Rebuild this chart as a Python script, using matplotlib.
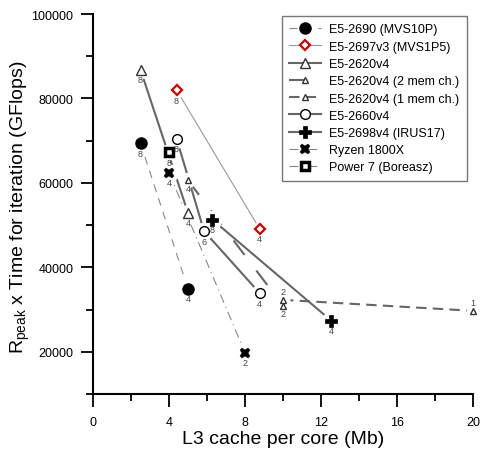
import numpy as np
import matplotlib
matplotlib.use('Agg')
import matplotlib.pyplot as plt
from matplotlib.lines import Line2D

plt.rcParams['font.family'] = ['Liberation Sans', 'DejaVu Sans']

# L3 cache per core (Mb), Rpeak x time (GFlops), number of cores (point labels)
x_e52690 = [2.5, 5.0]
y_e52690 = [69400, 34900]
n_e52690 = [8, 4]

x_e52697 = [4.4, 8.77]
y_e52697 = [82000, 49100]
n_e52697 = [8, 4]

x_e52620 = [2.5, 5.0]
y_e52620 = [86800, 52900]
n_e52620 = [8, 4]

x_e52620_2ch = [5.0, 10.0]
y_e52620_2ch = [60600, 30900]
n_e52620_2ch = [4, 2]

x_e52620_1ch = [10.0, 20.0]
y_e52620_1ch = [32300, 29700]
n_e52620_1ch = [2, 1]

x_e52660 = [4.4, 5.84, 8.77]
y_e52660 = [70500, 48600, 33900]
n_e52660 = [8, 6, 4]

x_e52698 = [6.28, 12.53]
y_e52698 = [51300, 27400]
n_e52698 = [8, 4]

x_ryzen = [4.0, 8.0]
y_ryzen = [62400, 19800]
n_ryzen = [4, 2]

x_power7 = [4.0]
y_power7 = [67300]
n_power7 = [8]

names = ['E5-2690 (MVS10P)', 'E5-2697v3 (MVS1P5)', 'E5-2620v4',
         'E5-2620v4 (2 mem ch.)', 'E5-2620v4 (1 mem ch.)', 'E5-2660v4',
         'E5-2698v4 (IRUS17)', 'Ryzen 1800X', 'Power 7 (Boreasz)']

xs = [x_e52690, x_e52697, x_e52620, x_e52620_2ch, x_e52620_1ch, x_e52660, x_e52698, x_ryzen, x_power7]
ys = [y_e52690, y_e52697, y_e52620, y_e52620_2ch, y_e52620_1ch, y_e52660, y_e52698, y_ryzen, y_power7]
ns = [n_e52690, n_e52697, n_e52620, n_e52620_2ch, n_e52620_1ch, n_e52660, n_e52698, n_ryzen, n_power7]

# line colour/width/style, marker, size, face, edge, edge width, label offset (px)
styles = [
    dict(c='#888888', lw=0.8, ls=(0, (7, 6)), m='o', ms=8, mfc='black', mec='black', mew=1, off=-10),
    dict(c='#999999', lw=0.8, ls='-', m='D', ms=5, mfc='white', mec='#cc0000', mew=1.6, off=-10),
    dict(c='#666666', lw=1.5, ls='-', m='^', ms=6.5, mfc='white', mec='#333333', mew=1, off=-10),
    dict(c='#666666', lw=1.5, ls=(0, (8.7, 9.4)), m='^', ms=5, mfc='white', mec='#333333', mew=1, off=-8),
    dict(c='#666666', lw=1.5, ls=(0, (5, 3)), m='^', ms=4, mfc='white', mec='#333333', mew=1, off=8),
    dict(c='#666666', lw=1.5, ls='-', m='o', ms=7, mfc='white', mec='black', mew=1, off=-10),
    dict(c='#666666', lw=1.5, ls='-', m='P', ms=8, mfc='black', mec='black', mew=0.5, off=-10),
    dict(c='#888888', lw=0.8, ls=(0, (8, 4, 1, 4)), m='X', ms=7.5, mfc='black', mec='black', mew=0.3, off=-10),
    dict(c='#888888', lw=0.8, ls=(0, (8, 4, 1, 4)), m='s', ms=6, mfc='white', mec='black', mew=2.5, off=-10),
]

fig = plt.figure(figsize=(4.8, 4.52), dpi=100)
ax = fig.add_axes([93/480, 57/452, 380/480, 380/452])

handles = []
for x, y, n, s, name in zip(xs, ys, ns, styles, names):
    ax.plot(x, y, color=s['c'], lw=s['lw'], ls=s['ls'], zorder=2, clip_on=False)
    # white halo so the lines stop short of the symbols
    ax.plot(x, y, ls='none', marker='o', ms=s['ms'] + 5, mfc='white', mec='white',
            zorder=3, clip_on=False)
    ax.plot(x, y, ls='none', marker=s['m'], ms=s['ms'], mfc=s['mfc'], mec=s['mec'],
            mew=s['mew'], zorder=4, clip_on=False)
    for xi, yi, ni in zip(x, y, n):
        ax.annotate(str(ni), (xi, yi), xytext=(0, s['off']), textcoords='offset pixels',
                    ha='center', va='center', fontsize=6.5, color='#444444', zorder=5,
                    annotation_clip=False)
    handles.append(Line2D([], [], color=s['c'], lw=s['lw'], ls=s['ls'], marker=s['m'],
                          ms=s['ms'], mfc=s['mfc'], mec=s['mec'], mew=s['mew']))

ax.set_xlim(0, 20)
ax.set_ylim(10000, 100000)
ax.set_xticks(np.arange(0, 21, 4))
ax.set_xticks(np.arange(0, 21, 2), minor=True)
ax.set_yticks(np.arange(20000, 100001, 20000))
ax.set_yticks(np.arange(10000, 100001, 10000), minor=True)

for side in ['top', 'right']:
    ax.spines[side].set_visible(False)
for side in ['left', 'bottom']:
    ax.spines[side].set_linewidth(1.5)

ax.tick_params(which='major', direction='out', length=9, width=1.3, labelsize=9, pad=5)
ax.tick_params(which='minor', direction='out', length=5, width=1.3)
ax.tick_params(axis='x', which='major', pad=7)

ax.set_xlabel('L3 cache per core (Mb)', fontsize=14, labelpad=1)
ax.set_ylabel(r'$\mathregular{R_{peak}}$ x Time for iteration (GFlops)', fontsize=14)
ax.yaxis.set_label_coords(-0.16, 0.495)

leg = ax.legend(handles, names, loc='upper right', bbox_to_anchor=(467/480, 1 - 17/452),
                bbox_transform=fig.transFigure, borderaxespad=0, fontsize=9,
                frameon=True, fancybox=False, edgecolor='#555555', handlelength=2.5,
                handletextpad=0.7, labelspacing=0.42, borderpad=0.6)
leg.get_frame().set_linewidth(1.0)

fig.savefig('out.png', dpi=100)
